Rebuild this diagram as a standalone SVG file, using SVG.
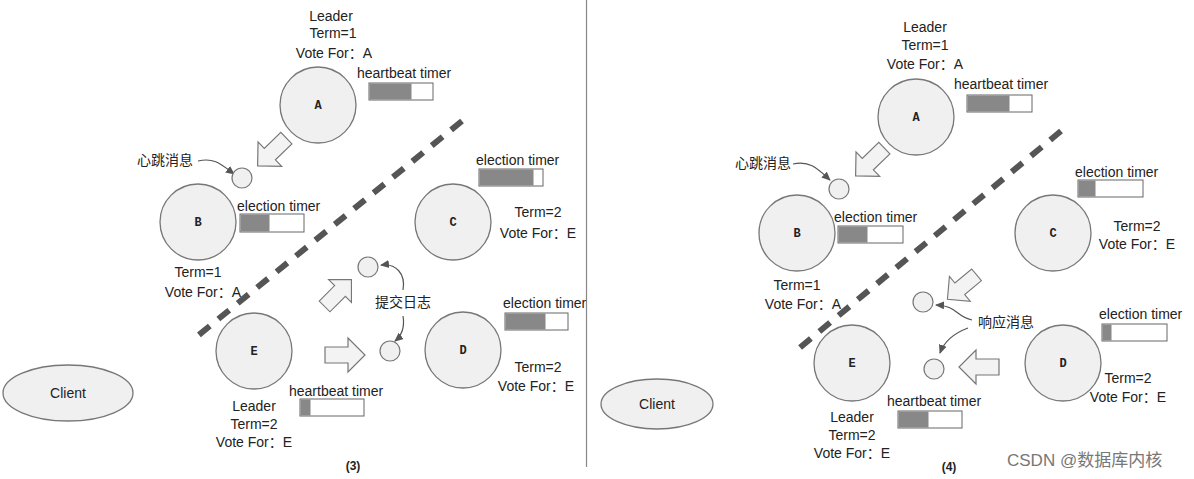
<svg xmlns="http://www.w3.org/2000/svg" width="1194" height="479" viewBox="0 0 1194 479">
<style>
text{font-family:"Liberation Sans",Arial,sans-serif;font-size:14px;fill:#222}
.c{text-anchor:middle}
.big{fill:#f0f0f0;stroke:#777;stroke-width:1.3}
.sm{fill:#f0f0f0;stroke:#777;stroke-width:1.2}
.lbl{font-family:"Liberation Mono","Courier New",monospace;font-weight:bold;font-size:12px;text-anchor:middle}
.cjk{font-family:"Liberation Sans","Noto Sans CJK SC",sans-serif}
.bar{fill:#fff;stroke:#666;stroke-width:1}
.fill{fill:#888}
.dash{stroke:#555;stroke-width:6;stroke-dasharray:14 11;fill:none}
.blk{fill:#f3f3f3;stroke:#777;stroke-width:1.2}
.cv{fill:none;stroke:#555;stroke-width:1.2;marker-end:url(#ah)}
</style>
<defs>
<marker id="ah" markerWidth="10" markerHeight="10" refX="8" refY="5" orient="auto" markerUnits="userSpaceOnUse">
<path d="M0,1 L9,5 L0,9 Z" fill="#555"/>
</marker>
<path id="ba" d="M-20,-8 H3 V-17 L20,0 L3,17 V8 H-20 Z"/>
</defs>
<rect width="1194" height="479" fill="#fff"/>
<line x1="586.5" y1="0" x2="586.5" y2="467" stroke="#888" stroke-width="1.2"/>

<!-- Left panel (3) -->
<g id="connectors-3">
<line class="dash" x1="462" y1="121" x2="195" y2="338"/>
<use href="#ba" class="blk" transform="translate(272,152) rotate(136)"/>
<use href="#ba" class="blk" transform="translate(338,293) rotate(-45) scale(0.95)"/>
<use href="#ba" class="blk" transform="translate(345,355)"/>
<path class="cv" d="M198,161 C215,157 222,165 234,174"/>
<path class="cv" d="M403,290 C406,274 396,263 381,265"/>
<path class="cv" d="M403,316 C405,328 401,336 395,341"/>
</g>
<g id="node-A3">
<circle class="big" cx="318" cy="105" r="38"/>
<text class="lbl" x="318" y="109">A</text>
<text class="c" x="331" y="21">Leader</text>
<text class="c" x="333" y="38">Term=1</text>
<text class="c cjk" x="334" y="58">Vote For：A</text>
<text x="357" y="78">heartbeat timer</text>
<rect class="bar" x="369" y="83" width="64" height="17"/>
<rect class="fill" x="369.5" y="83.5" width="42" height="16"/>
</g>
<g id="msg-hb3">
<text class="cjk" x="137" y="165">心跳消息</text>
<circle class="sm" cx="242" cy="178" r="10"/>
</g>
<g id="node-B3">
<circle class="big" cx="198" cy="222" r="38"/>
<text class="lbl" x="198" y="226">B</text>
<text x="237" y="211">election timer</text>
<rect class="bar" x="240" y="214" width="64" height="18"/>
<rect class="fill" x="240.5" y="214.5" width="29" height="17"/>
<text class="c" x="198" y="277">Term=1</text>
<text class="c cjk" x="203" y="297">Vote For：A</text>
</g>
<g id="node-C3">
<circle class="big" cx="453" cy="222" r="38"/>
<text class="lbl" x="453" y="226">C</text>
<text x="476" y="165">election timer</text>
<rect class="bar" x="479" y="169" width="64" height="17"/>
<rect class="fill" x="479.5" y="169.5" width="54" height="16"/>
<text class="c" x="538" y="217">Term=2</text>
<text class="c cjk" x="538" y="238">Vote For：E</text>
</g>
<g id="msg-log3">
<circle class="sm" cx="368" cy="267" r="10"/>
<circle class="sm" cx="390" cy="351" r="10"/>
<text class="cjk" x="375" y="307">提交日志</text>
</g>
<g id="node-D3">
<circle class="big" cx="463" cy="350" r="38"/>
<text class="lbl" x="463" y="354">D</text>
<text x="503" y="308">election timer</text>
<rect class="bar" x="505" y="313" width="63" height="17"/>
<rect class="fill" x="505.5" y="313.5" width="40" height="16"/>
<text class="c" x="538" y="372">Term=2</text>
<text class="c cjk" x="536" y="391">Vote For：E</text>
</g>
<g id="node-E3">
<circle class="big" cx="254" cy="351" r="38"/>
<text class="lbl" x="254" y="355">E</text>
<text x="289" y="396">heartbeat timer</text>
<rect class="bar" x="300" y="399" width="64" height="17"/>
<rect class="fill" x="300.5" y="399.5" width="10" height="16"/>
<text class="c" x="254" y="411">Leader</text>
<text class="c" x="254" y="429">Term=2</text>
<text class="c cjk" x="254" y="447">Vote For：E</text>
</g>
<g id="client3">
<ellipse class="big" cx="68" cy="393" rx="65" ry="28"/>
<text class="c" x="68" y="398">Client</text>
</g>
<text class="c" x="353" y="470" style="font-weight:bold;font-size:12px">(3)</text>

<!-- Right panel (4) -->
<g id="connectors-4">
<line class="dash" x1="1061" y1="131" x2="797" y2="350"/>
<use href="#ba" class="blk" transform="translate(870,162) rotate(136)"/>
<use href="#ba" class="blk" transform="translate(962,287) rotate(140) scale(0.95)"/>
<use href="#ba" class="blk" transform="translate(979,367) rotate(180)"/>
<path class="cv" d="M793,164 C810,160 818,169 830,180"/>
<path class="cv" d="M972,320 C955,316 958,306 936,305"/>
<path class="cv" d="M968,328 C952,334 944,342 940,353"/>
</g>
<g id="node-A4">
<circle class="big" cx="916" cy="117" r="38"/>
<text class="lbl" x="916" y="121">A</text>
<text class="c" x="925" y="32">Leader</text>
<text class="c" x="925" y="50">Term=1</text>
<text class="c cjk" x="925" y="69">Vote For：A</text>
<text x="954" y="89">heartbeat timer</text>
<rect class="bar" x="967" y="95" width="65" height="17"/>
<rect class="fill" x="967.5" y="95.5" width="42" height="16"/>
</g>
<g id="msg-hb4">
<text class="cjk" x="735" y="168">心跳消息</text>
<circle class="sm" cx="839" cy="189" r="10"/>
</g>
<g id="node-B4">
<circle class="big" cx="797" cy="233" r="38"/>
<text class="lbl" x="797" y="237">B</text>
<text x="834" y="222">election timer</text>
<rect class="bar" x="838" y="226" width="65" height="17"/>
<rect class="fill" x="838.5" y="226.5" width="29" height="16"/>
<text class="c" x="797" y="290">Term=1</text>
<text class="c cjk" x="803" y="309">Vote For：A</text>
</g>
<g id="node-C4">
<circle class="big" cx="1053" cy="233" r="38"/>
<text class="lbl" x="1053" y="237">C</text>
<text x="1075" y="177">election timer</text>
<rect class="bar" x="1078" y="180" width="65" height="17"/>
<rect class="fill" x="1078.5" y="180.5" width="17" height="16"/>
<text class="c" x="1137" y="231">Term=2</text>
<text class="c cjk" x="1137" y="249">Vote For：E</text>
</g>
<g id="msg-resp4">
<circle class="sm" cx="923" cy="302" r="10"/>
<circle class="sm" cx="934" cy="369" r="10"/>
<text class="cjk" x="978" y="327">响应消息</text>
</g>
<g id="node-D4">
<circle class="big" cx="1063" cy="363" r="38"/>
<text class="lbl" x="1063" y="367">D</text>
<text x="1099" y="319">election timer</text>
<rect class="bar" x="1102" y="324" width="65" height="17"/>
<rect class="fill" x="1102.5" y="324.5" width="9" height="16"/>
<text class="c" x="1128" y="383">Term=2</text>
<text class="c cjk" x="1128" y="402">Vote For：E</text>
</g>
<g id="node-E4">
<circle class="big" cx="852" cy="363" r="38"/>
<text class="lbl" x="852" y="367">E</text>
<text x="887" y="406">heartbeat timer</text>
<rect class="bar" x="898" y="411" width="64" height="17"/>
<rect class="fill" x="898.5" y="411.5" width="30" height="16"/>
<text class="c" x="852" y="422">Leader</text>
<text class="c" x="852" y="440">Term=2</text>
<text class="c cjk" x="852" y="458">Vote For：E</text>
</g>
<g id="client4">
<ellipse class="big" cx="657" cy="404" rx="56" ry="25"/>
<text class="c" x="657" y="409">Client</text>
</g>
<text class="c" x="949" y="471" style="font-weight:bold;font-size:12px">(4)</text>
<text x="1007" y="466" style="font-size:17px;fill:#777;font-family:'Liberation Sans','Noto Sans CJK SC',sans-serif">CSDN @数据库内核</text>
</svg>
